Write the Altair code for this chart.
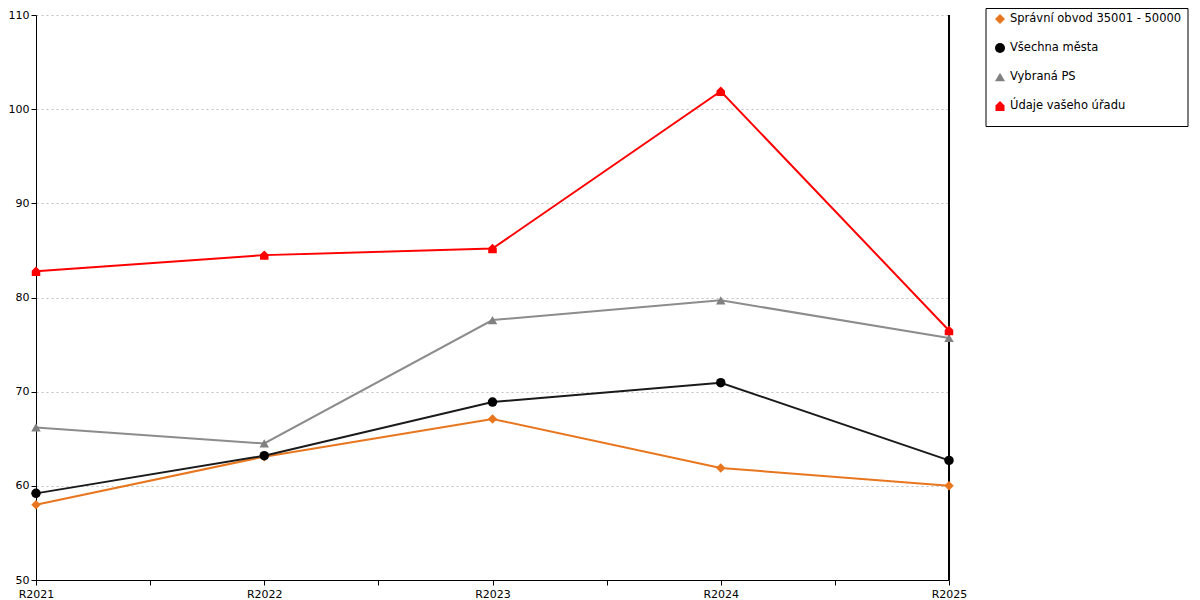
import altair as alt
import pandas as pd

years = ["R2021", "R2022", "R2023", "R2024", "R2025"]
series_names = ["Správní obvod 35001 - 50000", "Všechna města", "Vybraná PS", "Údaje vašeho úřadu"]
spravni = [58.0, 63.1, 67.1, 61.9, 60.0]
vsechna = [59.2, 63.2, 68.9, 70.95, 62.7]
vybrana = [66.2, 64.5, 77.6, 79.7, 75.7]
udaje = [82.8, 84.5, 85.2, 101.9, 76.5]
colors = ["#E8761E", "#000000", "#808080", "#FF0000"]
line_colors = ["#E8761E", "#1a1a1a", "#8c8c8c", "#FF0000"]
line_widths = [2, 2, 2, 1.4]
house = "M-0.9,1 L-0.9,-0.1 L0,-1 L0.9,-0.1 L0.9,1 Z"
shapes = ["diamond", "circle", "triangle-up", house]

rows = []
for name, vals in zip(series_names, [spravni, vsechna, vybrana, udaje]):
    for i, (y, v) in enumerate(zip(years, vals)):
        rows.append({"series": name, "line_series": name, "idx": i, "year": y, "value": v})
df = pd.DataFrame(rows)
legend_df = pd.DataFrame({"series": series_names})

label_expr = "datum.value % 1 == 0 ? [" + ",".join(f"'{y}'" for y in years) + "][datum.value] : ''"

x_enc = alt.X("idx:Q", scale=alt.Scale(domain=[0, len(years) - 1], nice=False, zero=False),
              axis=alt.Axis(values=[i * 0.5 for i in range(2 * len(years) - 1)], labelExpr=label_expr,
                            grid=False, title=None, tickSize=5, labelPadding=3, labelFontSize=11,
                            labelFont="DejaVu Sans", domainColor="#000", tickColor="#000",
                            labelColor="#000", labelFlush=False))
y_enc = alt.Y("value:Q", scale=alt.Scale(domain=[50, 110], nice=False, zero=False),
              axis=alt.Axis(values=[50, 60, 70, 80, 90, 100, 110], grid=True, gridDash=[2, 3],
                            gridColor="#c0c0c0", title=None, tickSize=5, labelPadding=2,
                            labelFontSize=11, labelFont="DejaVu Sans", domainColor="#000",
                            tickColor="#000", labelColor="#000"))

fill_scale = alt.Scale(domain=series_names, range=colors)
shape_scale = alt.Scale(domain=series_names, range=shapes)

lines = alt.Chart(df).mark_line().encode(
    x=x_enc, y=y_enc,
    stroke=alt.Stroke("line_series:N", scale=alt.Scale(domain=series_names, range=line_colors), legend=None),
    strokeWidth=alt.StrokeWidth("line_series:N", scale=alt.Scale(domain=series_names, range=line_widths), legend=None),
    order=alt.Order("idx:Q"),
)

points = alt.Chart(df).mark_point(filled=True, opacity=1, size=90, strokeWidth=0).encode(
    x=x_enc, y=y_enc,
    fill=alt.Fill("series:N", scale=fill_scale, legend=None),
    shape=alt.Shape("series:N", scale=shape_scale, legend=None),
)

right_line = alt.Chart(df).mark_rule(color="#000", strokeWidth=1).encode(
    x=alt.value(913), y=alt.value(0), y2=alt.value(565)
)

main = alt.layer(lines, right_line, points)

# legend (drawn as marks from the series names)
legend_y = alt.Y("series:N", scale=alt.Scale(domain=series_names, range=[4, 91], padding=0), axis=None)
legend_box = alt.Chart(pd.DataFrame({"k": [0]})).mark_rect(fill="#fff", stroke="#000", strokeWidth=1).encode(
    x=alt.value(950), x2=alt.value(1152), y=alt.value(-6.5), y2=alt.value(111.5)
)
legend_sym = alt.Chart(legend_df).mark_point(filled=True, opacity=1, size=100, strokeWidth=0).encode(
    x=alt.value(964), y=legend_y,
    fill=alt.Fill("series:N", scale=fill_scale, legend=None),
    shape=alt.Shape("series:N", scale=shape_scale, legend=None),
)
legend_txt = alt.Chart(legend_df).mark_text(align="left", baseline="middle", fontSize=11.5,
                                             font="DejaVu Sans", color="#000").encode(
    x=alt.value(974), y=legend_y, text="series:N"
)
legend = alt.layer(legend_box, legend_sym, legend_txt)

chart = alt.layer(main, legend).resolve_scale(y="independent").properties(
    width=913, height=565,
    autosize=alt.AutoSizeParams(type="none"),
    padding={"left": 28, "top": 7, "right": 240, "bottom": 20},
).configure_view(stroke=None)

chart.save("out.html", embed_options={"renderer": "svg", "actions": False})
